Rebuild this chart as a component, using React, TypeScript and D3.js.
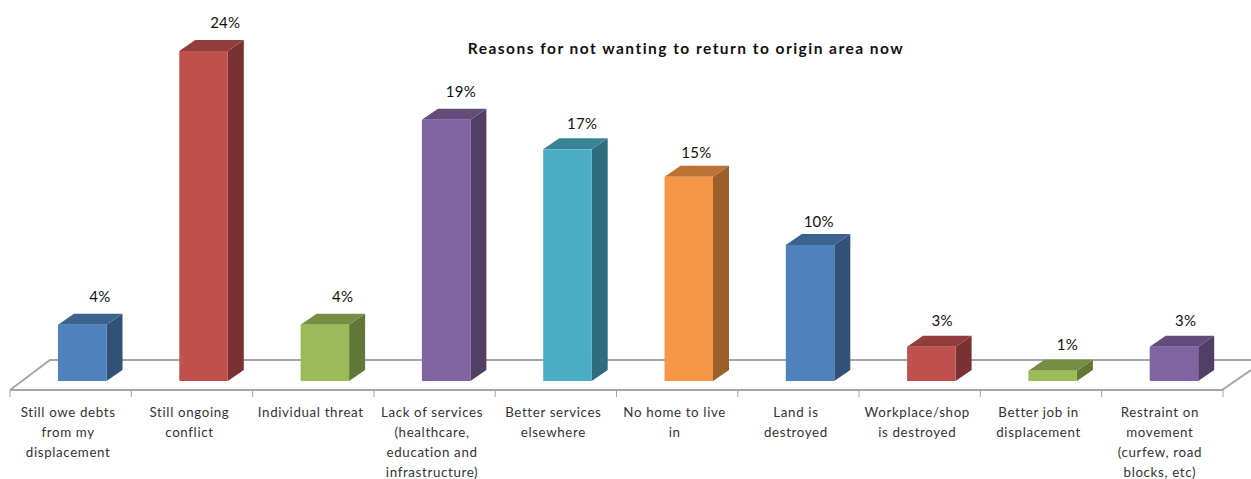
import React from "react";
import * as d3 from "d3";

const categories = [
  ["Still owe debts", "from my", "displacement"],
  ["Still ongoing", "conflict"],
  ["Individual threat"],
  ["Lack of services", "(healthcare,", "education and", "infrastructure)"],
  ["Better services", "elsewhere"],
  ["No home to live", "in"],
  ["Land is", "destroyed"],
  ["Workplace/shop", "is destroyed"],
  ["Better job in", "displacement"],
  ["Restraint on", "movement", "(curfew, road", "blocks, etc)"],
];
const values = [4.1, 24, 4.1, 19, 16.85, 14.85, 9.9, 2.5, 0.75, 2.5];
const labels = ["4%", "24%", "4%", "19%", "17%", "15%", "10%", "3%", "1%", "3%"];
const fronts = ["#4f81bd", "#c0504d", "#9bbb59", "#8064a2", "#4bacc6", "#f79646", "#4f81bd", "#c0504d", "#9bbb59", "#8064a2"];
const title = "Reasons for not wanting to return to origin area now";
const labelShiftX = [42, 46, 42, 39, 39, 32, 33, 35, 39, 36];
const labelLift = [23, 23, 23, 23, 20, 19, 18, 21, 21, 21];

const W = 1251;
const H = 479;
const FONT = "Lato, 'Open Sans', sans-serif";

export default function App() {
  const x = d3.scaleBand<number>().domain(d3.range(10)).range([10, 1223]);
  const y = d3.scaleLinear().domain([0, 24]).range([381, 51]);
  const barW = 48.5;
  const dx = 16;
  const dy = 11;
  const barOffset = 48;
  const band = x.bandwidth();
  const floorFrontY = 390;
  const floorBackY = 360;
  const tickXs = d3.range(11).map((i) => 10 + i * band);
  return (
    <svg width={W} height={H} style={{ position: "absolute", left: 0, top: 0, background: "#fff" }}>
      <path d={`M10,${floorFrontY} L50,${floorBackY} H${W}`} fill="none" stroke="#a6a6a6" strokeWidth={2} />
      <path d={`M10,${floorFrontY} H1222 L${W},${floorFrontY - 20}`} fill="none" stroke="#a6a6a6" strokeWidth={2} />
      {tickXs.map((t, i) => (
        <line key={i} x1={t} x2={t} y1={floorFrontY} y2={floorFrontY + 7} stroke="#a6a6a6" strokeWidth={1} />
      ))}
      {values.map((v, i) => {
        const x0 = x(i)! + barOffset;
        const x1 = x0 + barW;
        const yT = y(v);
        const yB = y(0);
        const top = d3.interpolateRgb(fronts[i], "#000")(0.24);
        const side = d3.interpolateRgb(fronts[i], "#000")(0.37);
        return (
          <g key={i}>
            <path d={`M${x1},${yT} L${x1 + dx},${yT - dy} V${yB - dy} L${x1},${yB} Z`} fill={side} />
            <path d={`M${x0},${yT} L${x0 + dx},${yT - dy} H${x1 + dx} L${x1},${yT} Z`} fill={top} />
            <rect x={x0} y={yT} width={barW} height={yB - yT} fill={fronts[i]} />
            <text x={x0 + labelShiftX[i]} y={yT - labelLift[i]} textAnchor="middle" fontFamily={FONT} fontSize={15} letterSpacing={0.3} fill="#111">
              {labels[i]}
            </text>
          </g>
        );
      })}
      {categories.map((lines, i) => (
        <text key={i} textAnchor="middle" fontFamily={FONT} fontSize={13.3} letterSpacing={0.65} fill="#333">
          {lines.map((l, j) => (
            <tspan key={j} x={x(i)! + band / 2 - 2.5} y={417 + j * 20}>
              {l}
            </tspan>
          ))}
        </text>
      ))}
      <text x={686} y={54} textAnchor="middle" fontFamily={FONT} fontSize={15.5} fontWeight={700} letterSpacing={1.47} fill="#111">
        {title}
      </text>
    </svg>
  );
}
